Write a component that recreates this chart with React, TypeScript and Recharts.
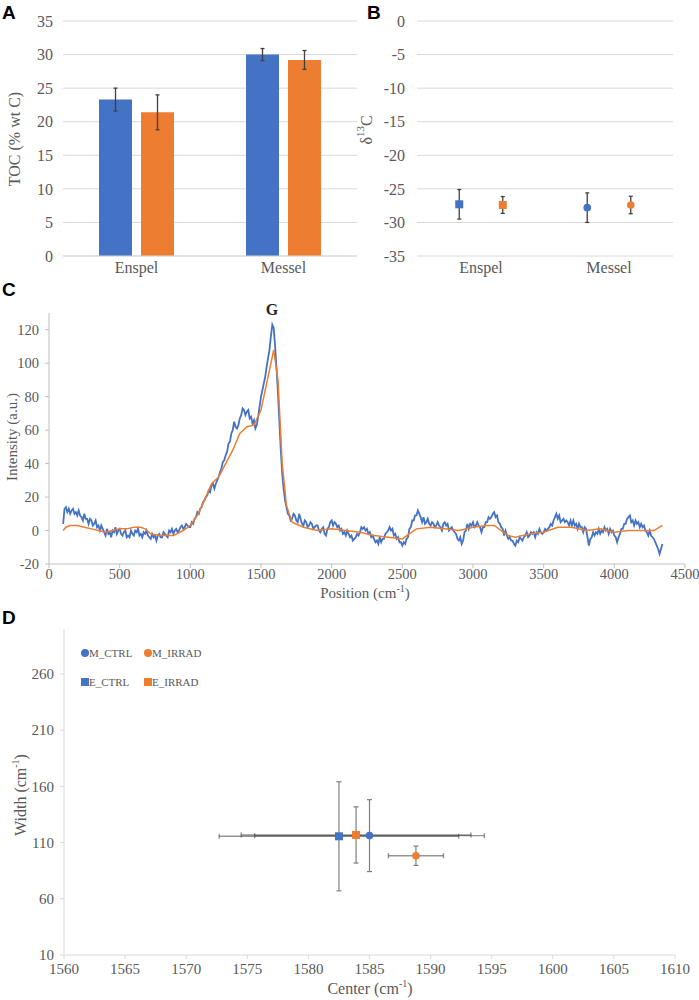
import React from 'react';
import {
  BarChart, Bar, XAxis, YAxis, CartesianGrid, ErrorBar,
  ScatterChart, Scatter, LineChart, Line,
} from 'recharts';

// ---------- Panel A: TOC ----------
const sites = ['Enspel', 'Messel'];
const tocCtrl = [23.3, 30.0];
const tocCtrlErr = [1.7, 0.9];
const tocIrrad = [21.4, 29.2];
const tocIrradErr = [2.6, 1.4];
const tocTicks = [0, 5, 10, 15, 20, 25, 30, 35];

// ---------- Panel B: d13C ----------
const d13cCtrl = [-27.3, -27.8];
const d13cCtrlErr = [2.2, 2.2];
const d13cIrrad = [-27.4, -27.4];
const d13cIrradErr = [1.25, 1.3];
const d13cTicks = [-35, -30, -25, -20, -15, -10, -5, 0];

// ---------- Panel C: Raman spectrum ----------
const ctrlPos = [
  100, 110, 120, 130, 140, 150, 160, 170, 180, 190,
  200, 210, 220, 230, 240, 250, 260, 270, 280, 290,
  300, 310, 320, 330, 340, 350, 360, 370, 380, 390,
  400, 410, 420, 430, 440, 450, 460, 470, 480, 490,
  500, 510, 520, 530, 540, 550, 560, 570, 580, 590,
  600, 610, 620, 630, 640, 650, 660, 670, 680, 690,
  700, 710, 720, 730, 740, 750, 760, 770, 780, 790,
  800, 810, 820, 830, 840, 850, 860, 870, 880, 890,
  900, 910, 920, 930, 940, 950, 960, 970, 980, 990,
  1000, 1010, 1020, 1030, 1040, 1050, 1060, 1070, 1080, 1090,
  1100, 1110, 1120, 1130, 1140, 1150, 1160, 1170, 1180, 1190,
  1200, 1210, 1220, 1230, 1240, 1250, 1260, 1270, 1280, 1290,
  1300, 1310, 1320, 1330, 1340, 1350, 1360, 1370, 1380, 1390,
  1400, 1410, 1420, 1430, 1440, 1450, 1460, 1470, 1480, 1490,
  1500, 1510, 1520, 1530, 1540, 1550, 1560, 1570, 1580, 1590,
  1600, 1610, 1620, 1630, 1640, 1650, 1660, 1670, 1680, 1690,
  1700, 1710, 1720, 1730, 1740, 1750, 1760, 1770, 1780, 1790,
  1800, 1810, 1820, 1830, 1840, 1850, 1860, 1870, 1880, 1890,
  1900, 1910, 1920, 1930, 1940, 1950, 1960, 1970, 1980, 1990,
  2000, 2010, 2020, 2030, 2040, 2050, 2060, 2070, 2080, 2090,
  2100, 2110, 2120, 2130, 2140, 2150, 2160, 2170, 2180, 2190,
  2200, 2210, 2220, 2230, 2240, 2250, 2260, 2270, 2280, 2290,
  2300, 2310, 2320, 2330, 2340, 2350, 2360, 2370, 2380, 2390,
  2400, 2410, 2420, 2430, 2440, 2450, 2460, 2470, 2480, 2490,
  2500, 2510, 2520, 2530, 2540, 2550, 2560, 2570, 2580, 2590,
  2600, 2610, 2620, 2630, 2640, 2650, 2660, 2670, 2680, 2690,
  2700, 2710, 2720, 2730, 2740, 2750, 2760, 2770, 2780, 2790,
  2800, 2810, 2820, 2830, 2840, 2850, 2860, 2870, 2880, 2890,
  2900, 2910, 2920, 2930, 2940, 2950, 2960, 2970, 2980, 2990,
  3000, 3010, 3020, 3030, 3040, 3050, 3060, 3070, 3080, 3090,
  3100, 3110, 3120, 3130, 3140, 3150, 3160, 3170, 3180, 3190,
  3200, 3210, 3220, 3230, 3240, 3250, 3260, 3270, 3280, 3290,
  3300, 3310, 3320, 3330, 3340, 3350, 3360, 3370, 3380, 3390,
  3400, 3410, 3420, 3430, 3440, 3450, 3460, 3470, 3480, 3490,
  3500, 3510, 3520, 3530, 3540, 3550, 3560, 3570, 3580, 3590,
  3600, 3610, 3620, 3630, 3640, 3650, 3660, 3670, 3680, 3690,
  3700, 3710, 3720, 3730, 3740, 3750, 3760, 3770, 3780, 3790,
  3800, 3810, 3820, 3830, 3840, 3850, 3860, 3870, 3880, 3890,
  3900, 3910, 3920, 3930, 3940, 3950, 3960, 3970, 3980, 3990,
  4000, 4010, 4020, 4030, 4040, 4050, 4060, 4070, 4080, 4090,
  4100, 4110, 4120, 4130, 4140, 4150, 4160, 4170, 4180, 4190,
  4200, 4210, 4220, 4230, 4240, 4250, 4260, 4270, 4280, 4290,
  4300, 4310, 4320, 4330, 4340,
];
const ctrlInt = [
  4, 13, 14, 11, 13, 10, 12, 13, 10, 11,
  9, 12, 9, 8, 6, 10, 7, 7, 4, 7,
  6, 3, 4, 6, 2, 3, 0, 3, 1, -1,
  -3, 1, -2, -1, -4, 0, -1, 2, -2, 0,
  1, -2, -3, -1, 0, -4, -3, -4, 0, -2,
  -3, 0, -1, 1, -3, -2, -4, -1, -2, 0,
  -3, -4, -5, -2, -4, -3, -6, -3, -2, -4,
  -4, -1, -2, -3, -4, 0, -1, 1, -2, 0,
  1, -1, 0, 2, 3, 1, 2, 4, 3, 2,
  2, 5, 4, 7, 8, 11, 10, 13, 14, 17,
  18, 20, 21, 24, 23, 27, 28, 25, 28, 30,
  32, 35, 37, 41, 42, 45, 47, 52, 53, 58,
  60, 65, 62, 61, 63, 67, 69, 73, 72, 69,
  71, 72, 67, 68, 64, 66, 61, 63, 68, 74,
  80, 84, 88, 92, 98, 103, 108, 116, 123, 121,
  110, 97, 82, 65, 48, 34, 25, 18, 14, 10,
  9, 6, 7, 10, 9, 6, 5, 10, 7, 4,
  3, 6, 5, 2, 3, 5, 4, 1, 2, 3,
  3, 0, -1, 1, 2, -2, -3, 1, 2, 5,
  6, 3, 5, 4, 2, 3, 0, 1, -2, -1,
  -3, 0, -2, -4, -3, -6, -5, -4, -2, -3,
  -1, 2, 1, 2, 0, 1, -2, -1, -4, -3,
  -5, -7, -6, -8, -4, -7, -5, -5, -2, -1,
  0, 2, 0, 1, -3, -2, -5, -4, -7, -7,
  -9, -7, -8, -5, -4, 1, 2, 6, 6, 9,
  9, 12, 10, 8, 5, 8, 4, 5, 7, 4,
  3, 5, 4, 2, 3, 5, 3, 2, 0, 4,
  5, 3, 4, 0, 1, 2, 0, -1, -2, -5,
  -6, -4, -8, -6, -1, 0, 4, 1, 4, 3,
  5, 2, 3, 5, 3, 2, -1, 2, 2, 5,
  5, 8, 7, 8, 10, 11, 8, 9, 5, 4,
  2, 1, -3, 0, -3, -5, -4, -6, -6, -8,
  -9, -6, -7, -4, -5, -6, -4, -3, -1, -4,
  -3, -1, -2, -1, -4, -1, -2, 1, -1, -2,
  -1, 1, 0, 1, 2, 4, 3, 6, 8, 10,
  7, 9, 5, 6, 7, 5, 6, 5, 3, 6,
  3, 6, 3, 4, 1, 4, 2, 2, -1, 2,
  1, -4, -9, -5, -4, -1, -3, -1, -2, 1,
  -2, 0, -1, 2, 0, 1, -2, 1, -1, 0,
  -3, -4, -7, -4, -2, 1, 1, 4, 4, 7,
  8, 9, 5, 6, 3, 6, 4, 5, 2, 4,
  2, 3, 0, -1, -3, 0, -3, -4, -5, -7,
  -9, -11, -14, -11, -8,
];
const irradPos = [
  100, 120, 150, 200, 250, 300, 350, 400, 450, 500,
  550, 600, 650, 680, 720, 800, 880, 950, 1000, 1050,
  1100, 1150, 1200, 1250, 1300, 1350, 1400, 1450, 1500, 1550,
  1590, 1620, 1650, 1680, 1720, 1800, 1900, 2000, 2100, 2200,
  2300, 2400, 2500, 2550, 2600, 2700, 2800, 2900, 3000, 3100,
  3150, 3200, 3250, 3300, 3400, 3500, 3600, 3700, 3800, 3900,
  4000, 4100, 4200, 4280, 4320, 4340,
];
const irradInt = [
  0, 2, 3, 3, 2, 1, 0, -1, 0, 1,
  1, 2, 2, 1, -2, -3, -3, 0, 3, 9,
  18, 28, 32, 40, 48, 58, 62, 63, 72, 92,
  108, 90, 40, 15, 5, 2, 0, 1, 0, -1,
  -3, -4, -5, -2, 1, 2, 1, 0, 2, 3,
  3, 0, -3, -4, -2, -1, 2, 2, 0, 1,
  -1, 0, 0, 0, 2, 3,
];
const ramanXTicks = [0, 500, 1000, 1500, 2000, 2500, 3000, 3500, 4000, 4500];
const ramanYTicks = [-20, 0, 20, 40, 60, 80, 100, 120];

// ---------- Panel D: G band fit ----------
const fitNames = ['E_CTRL', 'E_IRRAD', 'M_CTRL', 'M_IRRAD'];
const fitCenter = [1582.5, 1583.9, 1585.0, 1588.8];
const fitCenterErr = [9.8, 9.4, 9.4, 2.25];
const fitWidth = [115.6, 116.8, 116.2, 98.3];
const fitWidthErr = [48.5, 25, 32, 8.6];
const fitXTicks = [1560, 1565, 1570, 1575, 1580, 1585, 1590, 1595, 1600, 1605, 1610];
const fitYTicks = [10, 60, 110, 160, 210, 260];
const legendRows = [['M_CTRL', 'M_IRRAD'], ['E_CTRL', 'E_IRRAD']];

// ---------- styling ----------
const BLUE = '#4472C4';
const ORANGE = '#ED7D31';
const SERIF = '"Liberation Serif", "Times New Roman", serif';
const SANS = '"Liberation Sans", Arial, sans-serif';
const TEXT = '#595959';
const GRID = '#d9d9d9';
const AXIS = '#bfbfbf';

const tocData = sites.map((s, i) => ({
  site: s, ctrl: tocCtrl[i], ctrlErr: tocCtrlErr[i], irrad: tocIrrad[i], irradErr: tocIrradErr[i],
}));
const bOffset = 0.17;
const bCtrl = sites.map((s, i) => ({ site: s, x: i + 0.5 - bOffset, y: d13cCtrl[i], err: d13cCtrlErr[i] }));
const bIrrad = sites.map((s, i) => ({ site: s, x: i + 0.5 + bOffset, y: d13cIrrad[i], err: d13cIrradErr[i] }));
const ctrlData = ctrlPos.map((x, i) => ({ x, y: ctrlInt[i] }));
const irradData = irradPos.map((x, i) => ({ x, y: irradInt[i] }));
const fitColor = (n: string) => (n.includes('IRRAD') ? ORANGE : BLUE);
const fitSeries = fitNames.map((n, i) => ({
  name: n,
  data: [{ x: fitCenter[i], y: fitWidth[i], ex: fitCenterErr[i], ey: fitWidthErr[i] }],
}));

const tickStyle = (size: number) => ({ fill: TEXT, fontSize: size, fontFamily: SERIF });

const marker = (color: string, square: boolean, half: number) => (props: any) => {
  const { cx, cy } = props;
  if (cx == null || cy == null) return <g />;
  return square
    ? <rect x={cx - half} y={cy - half} width={half * 2} height={half * 2} fill={color} />
    : <circle cx={cx} cy={cy} r={half} fill={color} />;
};

const bMarker = (color: string) => (props: any) => {
  const sq = props.payload && props.payload.site === 'Enspel';
  return marker(color, sq, sq ? 4 : 3.8)(props);
};

export default function App() {
  return (
    <div style={{ position: 'absolute', left: 0, top: 0, width: 699, height: 1000, background: '#fff', overflow: 'hidden' }}>
      {/* Panel A */}
      <div style={{ position: 'absolute', left: 0, top: 0 }}>
        <BarChart width={365} height={280} data={tocData} margin={{ top: 21, right: 8, left: 0, bottom: 4 }} barSize={33} barGap={9}>
          <CartesianGrid vertical={false} stroke={GRID} />
          <XAxis dataKey="site" height={20} axisLine={{ stroke: GRID }} tickLine={false} tickSize={0} tickMargin={6} tick={tickStyle(16)} />
          <YAxis type="number" domain={[0, 35]} ticks={tocTicks} interval={0} width={63} axisLine={false} tickLine={false} tickSize={0} tickMargin={10} tick={tickStyle(16)} />
          <Bar dataKey="ctrl" fill={BLUE} isAnimationActive={false}>
            <ErrorBar dataKey="ctrlErr" width={2} stroke="#404040" strokeWidth={1.3} />
          </Bar>
          <Bar dataKey="irrad" fill={ORANGE} isAnimationActive={false}>
            <ErrorBar dataKey="irradErr" width={2} stroke="#404040" strokeWidth={1.3} />
          </Bar>
        </BarChart>
      </div>

      {/* Panel B */}
      <div style={{ position: 'absolute', left: 350, top: 0 }}>
        <ScatterChart width={340} height={280} margin={{ top: 21, right: 17, left: 0, bottom: 4 }}>
          <CartesianGrid vertical={false} stroke={GRID} />
          <XAxis type="number" dataKey="x" domain={[0, 2]} ticks={[0.5, 1.5]} interval={0} height={20}
            tickFormatter={(v: number) => sites[Math.floor(v)]} axisLine={false} tickLine={false} tickSize={0} tickMargin={6} tick={tickStyle(16)} />
          <YAxis type="number" dataKey="y" domain={[-35, 0]} ticks={d13cTicks} interval={0} width={67} axisLine={false} tickLine={false} tickSize={0} tickMargin={12} tick={tickStyle(16)} />
          <Scatter data={bCtrl} fill={BLUE} shape={bMarker(BLUE)} isAnimationActive={false}>
            <ErrorBar dataKey="err" direction="y" width={2} stroke="#404040" strokeWidth={1.3} />
          </Scatter>
          <Scatter data={bIrrad} fill={ORANGE} shape={bMarker(ORANGE)} isAnimationActive={false}>
            <ErrorBar dataKey="err" direction="y" width={2} stroke="#404040" strokeWidth={1.3} />
          </Scatter>
        </ScatterChart>
      </div>

      {/* Panel C */}
      <div style={{ position: 'absolute', left: 0, top: 295 }}>
        <LineChart width={699} height={305} margin={{ top: 18, right: 14, left: 0, bottom: 16 }}>
          <XAxis type="number" dataKey="x" domain={[0, 4500]} ticks={ramanXTicks} interval={0} height={20}
            axisLine={{ stroke: AXIS }} tickLine={{ stroke: AXIS }} tickSize={4} tickMargin={1} tick={tickStyle(14.5)} />
          <YAxis type="number" dataKey="y" domain={[-20, 130]} ticks={ramanYTicks} interval={0} width={49}
            axisLine={{ stroke: AXIS }} tickLine={{ stroke: AXIS }} tickSize={4} tickMargin={6} tick={tickStyle(14.5)} />
          <Line data={ctrlData} dataKey="y" type="linear" stroke={BLUE} strokeWidth={1.8} dot={false} isAnimationActive={false} />
          <Line data={irradData} dataKey="y" type="linear" stroke={ORANGE} strokeWidth={1.5} dot={false} isAnimationActive={false} />
        </LineChart>
      </div>

      {/* Panel D */}
      <div style={{ position: 'absolute', left: 0, top: 610 }}>
        <ScatterChart width={699} height={390} margin={{ top: 19, right: 24, left: 0, bottom: 20 }}>
          <XAxis type="number" dataKey="x" domain={[1560, 1610]} ticks={fitXTicks} interval={0} height={25}
            axisLine={{ stroke: GRID }} tickLine={{ stroke: GRID }} tickSize={4} tickMargin={4} tick={tickStyle(15)} />
          <YAxis type="number" dataKey="y" domain={[10, 300]} ticks={fitYTicks} interval={0} width={64}
            axisLine={{ stroke: GRID }} tickLine={{ stroke: GRID }} tickSize={4} tickMargin={6} tick={tickStyle(15)} />
          {fitSeries.map((s) => (
            <Scatter key={s.name} name={s.name} data={s.data} fill={fitColor(s.name)}
              shape={marker(fitColor(s.name), s.name.startsWith('E_'), s.name.startsWith('E_') ? 4 : 3.8)} isAnimationActive={false}>
              <ErrorBar dataKey="ex" direction="x" width={2.5} stroke="#3a3a3a" strokeOpacity={0.55} strokeWidth={1.4} />
              <ErrorBar dataKey="ey" direction="y" width={2.5} stroke="#7f7f7f" strokeWidth={1.2} />
            </Scatter>
          ))}
        </ScatterChart>
      </div>

      {/* Overlay text */}
      <svg width={699} height={1000} style={{ position: 'absolute', left: 0, top: 0, pointerEvents: 'none' }}>
        <g fontFamily={SANS} fontWeight="bold" fontSize={19} fill="#000">
          <text x={2} y={19}>A</text>
          <text x={367} y={19}>B</text>
          <text x={2} y={296}>C</text>
          <text x={2} y={624}>D</text>
        </g>
        <g fontFamily={SERIF} fill={TEXT}>
          <text transform="translate(14,139) rotate(-90)" textAnchor="middle" dominantBaseline="central" fontSize={16}>TOC (% wt C)</text>
          <text transform="translate(366,130) rotate(-90)" textAnchor="middle" dominantBaseline="central" fontSize={16}>
            δ<tspan dy={-6} fontSize={11}>13</tspan><tspan dy={6}>C</tspan>
          </text>
          <text transform="translate(12,437) rotate(-90)" textAnchor="middle" dominantBaseline="central" fontSize={15}>Intensity (a.u.)</text>
          <text x={365} y={593} textAnchor="middle" dominantBaseline="central" fontSize={15}>
            Position (cm<tspan dy={-5} fontSize={10}>-1</tspan><tspan dy={5}>)</tspan>
          </text>
          <text transform="translate(20,795) rotate(-90)" textAnchor="middle" dominantBaseline="central" fontSize={16}>
            Width (cm<tspan dy={-5} fontSize={10}>-1</tspan><tspan dy={5}>)</tspan>
          </text>
          <text x={370} y={988} textAnchor="middle" dominantBaseline="central" fontSize={16}>
            Center (cm<tspan dy={-5} fontSize={10}>-1</tspan><tspan dy={5}>)</tspan>
          </text>
        </g>
        <text x={272} y={315} textAnchor="middle" fontFamily={SERIF} fontWeight="bold" fontSize={16} fill="#262626">G</text>
        {/* Panel D legend */}
        <g fontFamily={SERIF} fontSize={11} fill={TEXT}>
          {legendRows.map((row, r) => row.map((name, c) => {
            const cx = 85 + c * 63;
            const cy = 653 + r * 29;
            const col = fitColor(name);
            return (
              <g key={name}>
                {name.startsWith('E_')
                  ? <rect x={cx - 4} y={cy - 4} width={8} height={8} fill={col} />
                  : <circle cx={cx} cy={cy} r={4} fill={col} />}
                <text x={cx + 4} y={cy} dominantBaseline="central">{name}</text>
              </g>
            );
          }))}
        </g>
      </svg>
    </div>
  );
}
